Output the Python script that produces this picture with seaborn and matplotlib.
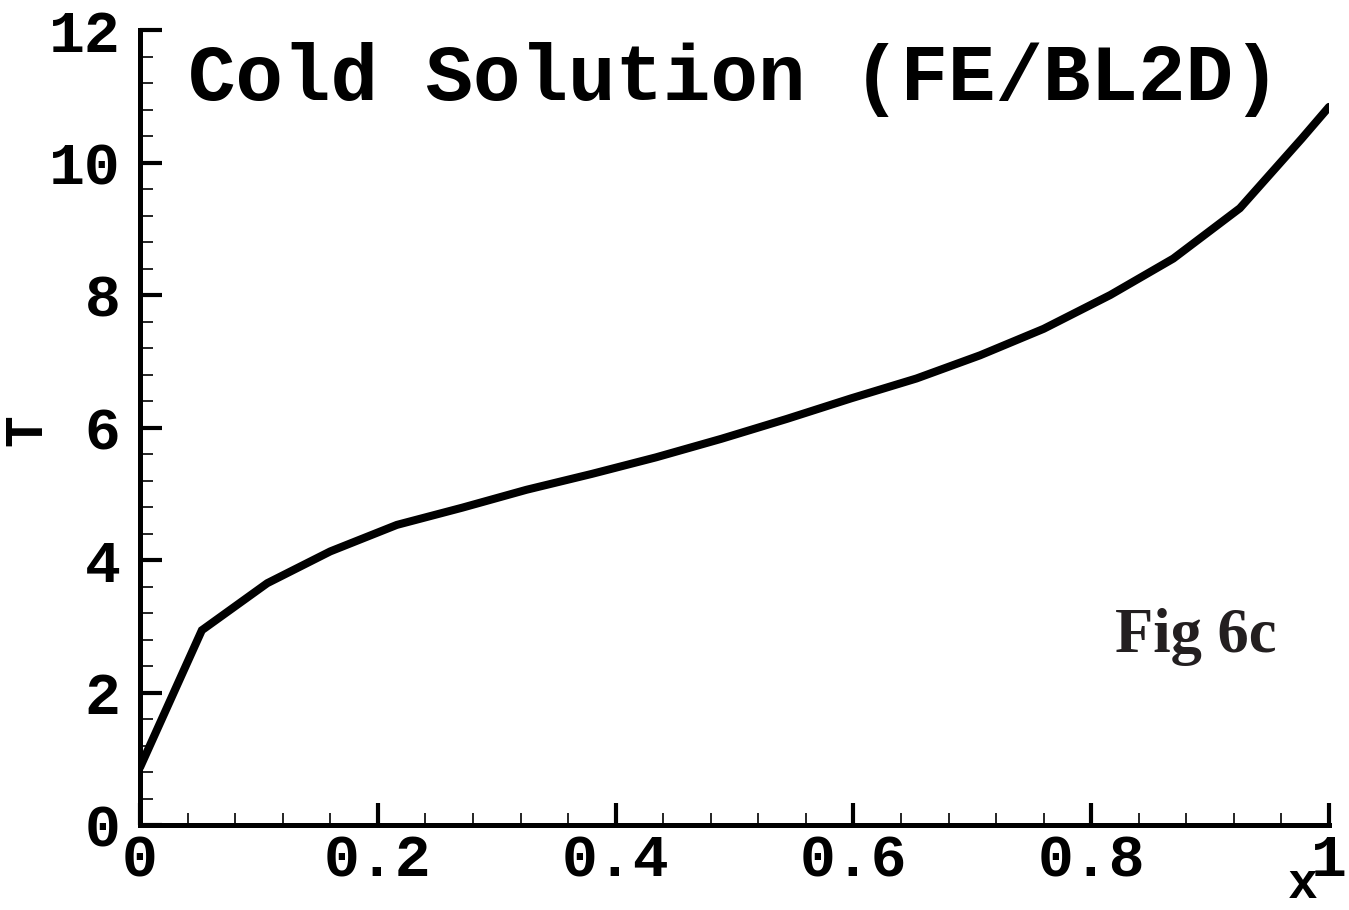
import matplotlib
matplotlib.use("Agg")
import matplotlib.pyplot as plt
from matplotlib.ticker import MultipleLocator
import seaborn as sns
import pandas as pd

# Cold solution temperature profile along x
x_vals = [0.0, 0.052, 0.107, 0.160, 0.216, 0.271, 0.325, 0.380, 0.434, 0.489,
          0.544, 0.598, 0.653, 0.7065, 0.760, 0.816, 0.869, 0.925, 0.977, 1.0]
t_vals = [0.87, 2.94, 3.65, 4.13, 4.53, 4.79, 5.06, 5.30, 5.55, 5.83,
          6.13, 6.44, 6.74, 7.09, 7.49, 8.00, 8.55, 9.31, 10.36, 10.84]

x_ticks = [0, 0.2, 0.4, 0.6, 0.8, 1]
x_tick_labels = ["0", "0.2", "0.4", "0.6", "0.8", "1"]
y_ticks = [0, 2, 4, 6, 8, 10, 12]
y_tick_labels = ["0", "2", "4", "6", "8", "10", "12"]

title_text = "Cold Solution (FE/BL2D)"
fig_tag = "Fig 6c"

df = pd.DataFrame({"x": x_vals, "T": t_vals})

sns.set_style("ticks")
plt.rcParams["font.family"] = ["Liberation Mono", "DejaVu Sans Mono"]
plt.rcParams["font.weight"] = "bold"

fig = plt.figure(figsize=(13.49, 9.10), dpi=100)
ax = fig.add_axes([0.1038, 0.0934, 0.8814, 0.8736])

sns.lineplot(data=df, x="x", y="T", ax=ax, color="black", linewidth=5.8,
             solid_joinstyle="miter", sort=False)

ax.set_xlim(0, 1)
ax.set_ylim(0, 12)

ax.spines["top"].set_visible(False)
ax.spines["right"].set_visible(False)
for side in ("left", "bottom"):
    ax.spines[side].set_linewidth(3.6)
    ax.spines[side].set_color("black")

ax.set_xticks(x_ticks)
ax.set_xticklabels(x_tick_labels)
ax.set_yticks(y_ticks)
ax.set_yticklabels(y_tick_labels)
ax.xaxis.set_minor_locator(MultipleLocator(0.04))
ax.yaxis.set_minor_locator(MultipleLocator(0.4))

ax.tick_params(which="major", direction="in", length=16, width=3.0,
               color="black", labelsize=43, labelcolor="black")
ax.tick_params(axis="x", which="major", pad=6)
ax.tick_params(axis="y", which="major", pad=14)
ax.tick_params(which="minor", direction="in", length=9, width=1.2, color="black")
for lab in ax.get_xticklabels() + ax.get_yticklabels():
    lab.set_fontweight("bold")

ax.set_xlabel("")
ax.set_ylabel("")
ax.text(0.978, -0.092, "x", transform=ax.transAxes, ha="center", va="baseline",
        fontsize=36, fontweight="bold", color="black", clip_on=False)
ax.text(-0.095, 0.497, "T", transform=ax.transAxes, ha="center", va="center",
        rotation=90, fontsize=38, fontweight="bold", color="black", clip_on=False)

ax.text(0.040, 0.912, title_text, transform=ax.transAxes, ha="left",
        va="baseline", fontsize=57, fontweight="bold", color="black")
ax.text(0.82, 0.2176, fig_tag, transform=ax.transAxes, ha="left",
        va="baseline", fontsize=45, fontweight="bold", color="#231f20",
        family=["Liberation Serif", "DejaVu Serif"])

fig.savefig("out.png", dpi=100, facecolor="white")
